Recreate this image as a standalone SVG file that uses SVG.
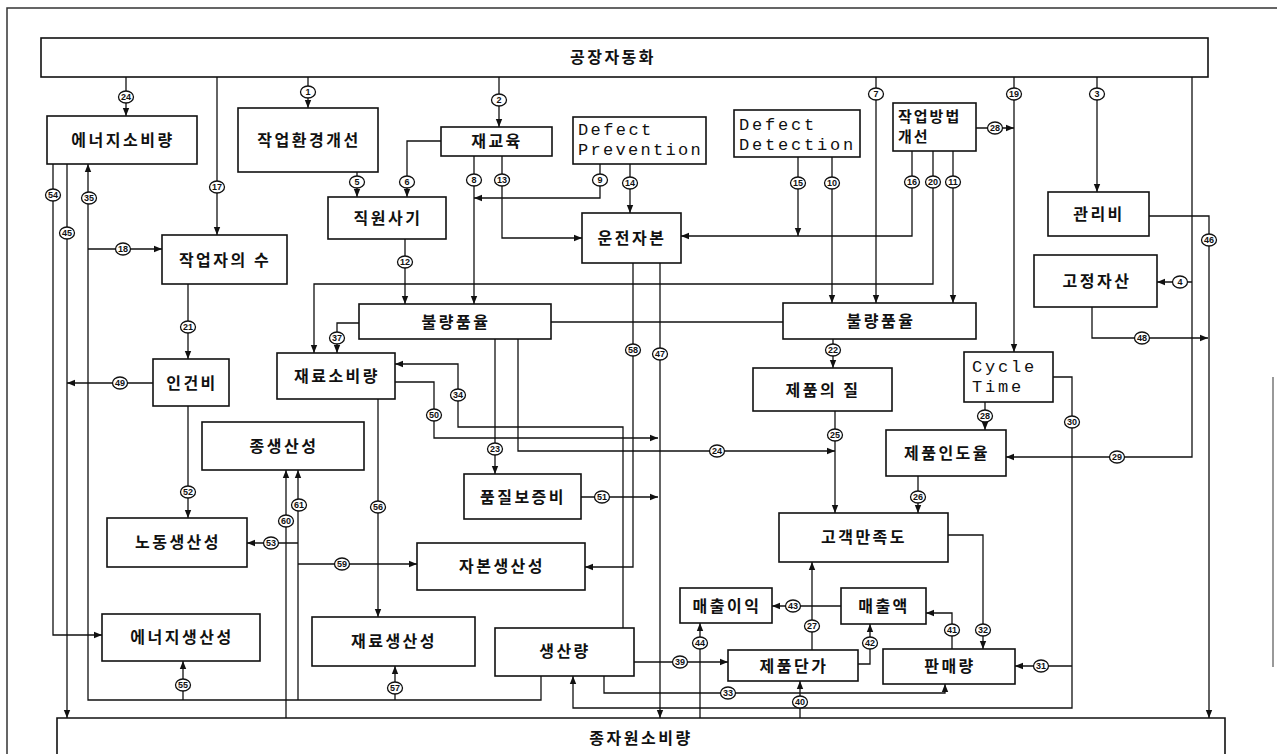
<svg xmlns="http://www.w3.org/2000/svg" width="1277" height="754" viewBox="0 0 1277 754">
<style>
.b{fill:#fff;stroke:#111;stroke-width:1.6}
.t{font-family:"Noto Sans CJK KR","Noto Sans",sans-serif;font-size:16px;font-weight:bold;letter-spacing:2.5px;text-anchor:middle;fill:#111}
.m{font-family:"Liberation Mono",monospace;font-size:17px;fill:#111}
.c path{fill:none;stroke:#111;stroke-width:1.3}
.c path.a{marker-end:url(#ah)}
.l ellipse{fill:#fff;stroke:#111;stroke-width:1.3}
.l text{font-family:"Liberation Sans",sans-serif;font-size:9px;font-weight:bold;text-anchor:middle;fill:#111}
</style>
<defs>
<marker id="ah" viewBox="0 0 10 10" refX="10" refY="5" markerWidth="8" markerHeight="8" markerUnits="userSpaceOnUse" orient="auto"><path d="M0,1 L10,5 L0,9 z" fill="#111"/></marker>
</defs>
<rect width="1277" height="754" fill="#fff"/>
<g id="frame" fill="none" stroke="#333" stroke-width="1.5">
<path d="M7,754 V8 H1277"/>
<path d="M1273,377 V667" stroke="#999" stroke-width="2"/>
</g>

<g id="connectors" class="c">
<path class="a" d="M126,77 V116"/>
<path class="a" d="M217,77 V235"/>
<path class="a" d="M308,77 V108"/>
<path class="a" d="M499,77 V127"/>
<path class="a" d="M876,77 V303"/>
<path class="a" d="M1014,77 V352"/>
<path class="a" d="M1097,77 V192"/>
<path class="a" d="M1192,77 V457 H1006"/>
<path class="a" d="M1192,282 H1157"/>
<path class="a" d="M1149,216 H1209 V718"/>
<path class="a" d="M1092,307 V338 H1208"/>
<path class="a" d="M976,128 H1014"/>
<path class="a" d="M357,172 V197"/>
<path class="a" d="M441,141 H407 V197"/>
<path class="a" d="M474,156 V304"/>
<path class="a" d="M600,164 V198 H474"/>
<path class="a" d="M502,156 V238 H582"/>
<path class="a" d="M630,164 V213"/>
<path class="a" d="M798,157 V236"/>
<path class="a" d="M912,151 V236 H681"/>
<path class="a" d="M832,157 V303"/>
<path class="a" d="M953,151 V303"/>
<path class="a" d="M933,151 V284 H314 V353"/>
<path class="a" d="M405,239 V304"/>
<path class="a" d="M359,323 H337 V353"/>
<path d="M551,322 H783"/>
<path class="a" d="M495,339 V474"/>
<path class="a" d="M518,339 V451 H835"/>
<path class="a" d="M833,339 V368"/>
<path class="a" d="M835,411 V513"/>
<path class="a" d="M985,402 V430"/>
<path class="a" d="M918,476 V513"/>
<path class="a" d="M1053,377 H1072 V708 H573 V676"/>
<path class="a" d="M1072,666 H1015"/>
<path class="a" d="M948,535 H983 V649"/>
<path class="a" d="M952,649 V613 H926"/>
<path class="a" d="M858,664 H870 V624"/>
<path class="a" d="M812,650 V562"/>
<path class="a" d="M841,606 H772"/>
<path class="a" d="M700,718 V623"/>
<path class="a" d="M634,662 H728"/>
<path class="a" d="M604,676 V693 H945 V684"/>
<path class="a" d="M800,718 V681"/>
<path class="a" d="M660,263 V718"/>
<path class="a" d="M633,263 V567 H585"/>
<path class="a" d="M395,382 H434 V438 H658"/>
<path class="a" d="M581,497 H658"/>
<path class="a" d="M623,628 V427 H458 V364 H395"/>
<path class="a" d="M378,399 V617"/>
<path class="a" d="M188,284 V359"/>
<path class="a" d="M188,406 V518"/>
<path class="a" d="M153,383 H67"/>
<path class="a" d="M67,164 V718"/>
<path class="a" d="M53,164 V635 H102"/>
<path class="a" d="M541,676 V700 H88 V164"/>
<path class="a" d="M88,249 H162"/>
<path class="a" d="M183,700 V661"/>
<path class="a" d="M395,700 V666"/>
<path class="a" d="M298,700 V470"/>
<path class="a" d="M286,718 V470"/>
<path class="a" d="M298,543 H247"/>
<path class="a" d="M298,564 H417"/>
</g>

<g id="labels" class="l">
<g><ellipse cx="126" cy="97" rx="7.5" ry="6"/><text x="126" y="100">24</text></g>
<g><ellipse cx="217" cy="187" rx="7.5" ry="6"/><text x="217" y="190">17</text></g>
<g><ellipse cx="308" cy="92" rx="7.5" ry="6"/><text x="308" y="95">1</text></g>
<g><ellipse cx="499" cy="100" rx="7.5" ry="6"/><text x="499" y="103">2</text></g>
<g><ellipse cx="876" cy="94" rx="7.5" ry="6"/><text x="876" y="97">7</text></g>
<g><ellipse cx="1014" cy="94" rx="7.5" ry="6"/><text x="1014" y="97">19</text></g>
<g><ellipse cx="1097" cy="94" rx="7.5" ry="6"/><text x="1097" y="97">3</text></g>
<g><ellipse cx="1117" cy="457" rx="7.5" ry="6"/><text x="1117" y="460">29</text></g>
<g><ellipse cx="1180" cy="282" rx="7.5" ry="6"/><text x="1180" y="285">4</text></g>
<g><ellipse cx="1209" cy="240" rx="7.5" ry="6"/><text x="1209" y="243">46</text></g>
<g><ellipse cx="1142" cy="338" rx="7.5" ry="6"/><text x="1142" y="341">48</text></g>
<g><ellipse cx="995" cy="128" rx="7.5" ry="6"/><text x="995" y="131">28</text></g>
<g><ellipse cx="357" cy="182" rx="7.5" ry="6"/><text x="357" y="185">5</text></g>
<g><ellipse cx="407" cy="182" rx="7.5" ry="6"/><text x="407" y="185">6</text></g>
<g><ellipse cx="474" cy="180" rx="7.5" ry="6"/><text x="474" y="183">8</text></g>
<g><ellipse cx="600" cy="180" rx="7.5" ry="6"/><text x="600" y="183">9</text></g>
<g><ellipse cx="502" cy="180" rx="7.5" ry="6"/><text x="502" y="183">13</text></g>
<g><ellipse cx="630" cy="183" rx="7.5" ry="6"/><text x="630" y="186">14</text></g>
<g><ellipse cx="798" cy="183" rx="7.5" ry="6"/><text x="798" y="186">15</text></g>
<g><ellipse cx="912" cy="182" rx="7.5" ry="6"/><text x="912" y="185">16</text></g>
<g><ellipse cx="832" cy="183" rx="7.5" ry="6"/><text x="832" y="186">10</text></g>
<g><ellipse cx="953" cy="182" rx="7.5" ry="6"/><text x="953" y="185">11</text></g>
<g><ellipse cx="933" cy="182" rx="7.5" ry="6"/><text x="933" y="185">20</text></g>
<g><ellipse cx="405" cy="262" rx="7.5" ry="6"/><text x="405" y="265">12</text></g>
<g><ellipse cx="337" cy="338" rx="7.5" ry="6"/><text x="337" y="341">37</text></g>
<g><ellipse cx="495" cy="449" rx="7.5" ry="6"/><text x="495" y="452">23</text></g>
<g><ellipse cx="717" cy="451" rx="7.5" ry="6"/><text x="717" y="454">24</text></g>
<g><ellipse cx="833" cy="350" rx="7.5" ry="6"/><text x="833" y="353">22</text></g>
<g><ellipse cx="835" cy="435" rx="7.5" ry="6"/><text x="835" y="438">25</text></g>
<g><ellipse cx="985" cy="416" rx="7.5" ry="6"/><text x="985" y="419">28</text></g>
<g><ellipse cx="918" cy="497" rx="7.5" ry="6"/><text x="918" y="500">26</text></g>
<g><ellipse cx="1072" cy="422" rx="7.5" ry="6"/><text x="1072" y="425">30</text></g>
<g><ellipse cx="1041" cy="666" rx="7.5" ry="6"/><text x="1041" y="669">31</text></g>
<g><ellipse cx="983" cy="630" rx="7.5" ry="6"/><text x="983" y="633">32</text></g>
<g><ellipse cx="952" cy="630" rx="7.5" ry="6"/><text x="952" y="633">41</text></g>
<g><ellipse cx="870" cy="643" rx="7.5" ry="6"/><text x="870" y="646">42</text></g>
<g><ellipse cx="812" cy="626" rx="7.5" ry="6"/><text x="812" y="629">27</text></g>
<g><ellipse cx="793" cy="606" rx="7.5" ry="6"/><text x="793" y="609">43</text></g>
<g><ellipse cx="700" cy="643" rx="7.5" ry="6"/><text x="700" y="646">44</text></g>
<g><ellipse cx="680" cy="662" rx="7.5" ry="6"/><text x="680" y="665">39</text></g>
<g><ellipse cx="728" cy="693" rx="7.5" ry="6"/><text x="728" y="696">33</text></g>
<g><ellipse cx="800" cy="702" rx="7.5" ry="6"/><text x="800" y="705">40</text></g>
<g><ellipse cx="660" cy="354" rx="7.5" ry="6"/><text x="660" y="357">47</text></g>
<g><ellipse cx="633" cy="350" rx="7.5" ry="6"/><text x="633" y="353">58</text></g>
<g><ellipse cx="434" cy="415" rx="7.5" ry="6"/><text x="434" y="418">50</text></g>
<g><ellipse cx="602" cy="497" rx="7.5" ry="6"/><text x="602" y="500">51</text></g>
<g><ellipse cx="458" cy="395" rx="7.5" ry="6"/><text x="458" y="398">34</text></g>
<g><ellipse cx="378" cy="507" rx="7.5" ry="6"/><text x="378" y="510">56</text></g>
<g><ellipse cx="188" cy="327" rx="7.5" ry="6"/><text x="188" y="330">21</text></g>
<g><ellipse cx="188" cy="492" rx="7.5" ry="6"/><text x="188" y="495">52</text></g>
<g><ellipse cx="120" cy="383" rx="7.5" ry="6"/><text x="120" y="386">49</text></g>
<g><ellipse cx="67" cy="233" rx="7.5" ry="6"/><text x="67" y="236">45</text></g>
<g><ellipse cx="53" cy="195" rx="7.5" ry="6"/><text x="53" y="198">54</text></g>
<g><ellipse cx="89" cy="198" rx="7.5" ry="6"/><text x="89" y="201">35</text></g>
<g><ellipse cx="123" cy="249" rx="7.5" ry="6"/><text x="123" y="252">18</text></g>
<g><ellipse cx="183" cy="685" rx="7.5" ry="6"/><text x="183" y="688">55</text></g>
<g><ellipse cx="395" cy="688" rx="7.5" ry="6"/><text x="395" y="691">57</text></g>
<g><ellipse cx="299" cy="505" rx="7.5" ry="6"/><text x="299" y="508">61</text></g>
<g><ellipse cx="286" cy="521" rx="7.5" ry="6"/><text x="286" y="524">60</text></g>
<g><ellipse cx="271" cy="543" rx="7.5" ry="6"/><text x="271" y="546">53</text></g>
<g><ellipse cx="342" cy="564" rx="7.5" ry="6"/><text x="342" y="567">59</text></g>
</g>

<g id="n-factory-automation"><rect class="b" x="41" y="38" width="1167" height="39"/><text class="t" x="613" y="63">공장자동화</text></g>
<g id="n-total-resource"><path class="b" d="M57,754 V718 H1225 V754"/><text class="t" x="641" y="744">종자원소비량</text></g>
<g id="n-energy-use"><rect class="b" x="47" y="116" width="150" height="48"/><text class="t" x="123" y="146">에너지소비량</text></g>
<g id="n-work-env"><rect class="b" x="238" y="108" width="140" height="64"/><text class="t" x="309" y="146">작업환경개선</text></g>
<g id="n-morale"><rect class="b" x="328" y="197" width="118" height="42"/><text class="t" x="388" y="224">직원사기</text></g>
<g id="n-retrain"><rect class="b" x="441" y="127" width="111" height="29"/><text class="t" x="497" y="147">재교육</text></g>
<g id="n-defect-prev"><rect class="b" x="573" y="117" width="133" height="47"/><text class="m" x="578" y="135" letter-spacing="2.4">Defect</text><text class="m" x="578" y="155" letter-spacing="2.3">Prevention</text></g>
<g id="n-defect-det"><rect class="b" x="734" y="110" width="126" height="47"/><text class="m" x="739" y="130" letter-spacing="2.8">Defect</text><text class="m" x="739" y="150" letter-spacing="2.8">Detection</text></g>
<g id="n-work-method"><rect class="b" x="893" y="103" width="83" height="48"/><text class="t" x="898" y="122" style="text-anchor:start;font-size:15px;letter-spacing:2px">작업방법</text><text class="t" x="898" y="142" style="text-anchor:start;font-size:15px;letter-spacing:2px">개선</text></g>
<g id="n-admin-cost"><rect class="b" x="1048" y="192" width="101" height="44"/><text class="t" x="1099" y="220">관리비</text></g>
<g id="n-fixed-asset"><rect class="b" x="1034" y="255" width="123" height="52"/><text class="t" x="1097" y="287">고정자산</text></g>
<g id="n-workers"><rect class="b" x="162" y="235" width="125" height="49"/><text class="t" x="225" y="266">작업자의 수</text></g>
<g id="n-working-capital"><rect class="b" x="582" y="213" width="99" height="50"/><text class="t" x="632" y="244">운전자본</text></g>
<g id="n-defect-rate-l"><rect class="b" x="359" y="304" width="192" height="35"/><text class="t" x="456" y="328">불량품율</text></g>
<g id="n-defect-rate-r"><rect class="b" x="783" y="303" width="193" height="36"/><text class="t" x="881" y="327">불량품율</text></g>
<g id="n-material-use"><rect class="b" x="277" y="353" width="118" height="46"/><text class="t" x="337" y="382">재료소비량</text></g>
<g id="n-labor-cost"><rect class="b" x="153" y="359" width="76" height="47"/><text class="t" x="192" y="389">인건비</text></g>
<g id="n-quality"><rect class="b" x="753" y="368" width="139" height="43"/><text class="t" x="823" y="396">제품의 질</text></g>
<g id="n-cycle-time"><rect class="b" x="964" y="352" width="89" height="50"/><text class="m" x="972" y="372" letter-spacing="2.8">Cycle</text><text class="m" x="972" y="392" letter-spacing="2.8">Time</text></g>
<g id="n-delivery"><rect class="b" x="886" y="430" width="120" height="46"/><text class="t" x="947" y="459">제품인도율</text></g>
<g id="n-total-prod"><rect class="b" x="202" y="422" width="162" height="48"/><text class="t" x="284" y="452">종생산성</text></g>
<g id="n-qa-cost"><rect class="b" x="464" y="474" width="117" height="45"/><text class="t" x="523" y="503">품질보증비</text></g>
<g id="n-satisfaction"><rect class="b" x="779" y="513" width="169" height="49"/><text class="t" x="864" y="543">고객만족도</text></g>
<g id="n-labor-prod"><rect class="b" x="107" y="518" width="140" height="49"/><text class="t" x="178" y="548">노동생산성</text></g>
<g id="n-capital-prod"><rect class="b" x="417" y="543" width="168" height="47"/><text class="t" x="502" y="572">자본생산성</text></g>
<g id="n-sales-profit"><rect class="b" x="680" y="588" width="92" height="35"/><text class="t" x="727" y="612">매출이익</text></g>
<g id="n-sales"><rect class="b" x="841" y="588" width="85" height="36"/><text class="t" x="884" y="612">매출액</text></g>
<g id="n-energy-prod"><rect class="b" x="102" y="614" width="158" height="47"/><text class="t" x="182" y="643">에너지생산성</text></g>
<g id="n-material-prod"><rect class="b" x="312" y="617" width="163" height="49"/><text class="t" x="394" y="647">재료생산성</text></g>
<g id="n-output"><rect class="b" x="495" y="628" width="139" height="48"/><text class="t" x="565" y="657">생산량</text></g>
<g id="n-unit-price"><rect class="b" x="728" y="650" width="130" height="31"/><text class="t" x="794" y="672">제품단가</text></g>
<g id="n-sales-volume"><rect class="b" x="883" y="649" width="132" height="35"/><text class="t" x="950" y="672">판매량</text></g>
</svg>
